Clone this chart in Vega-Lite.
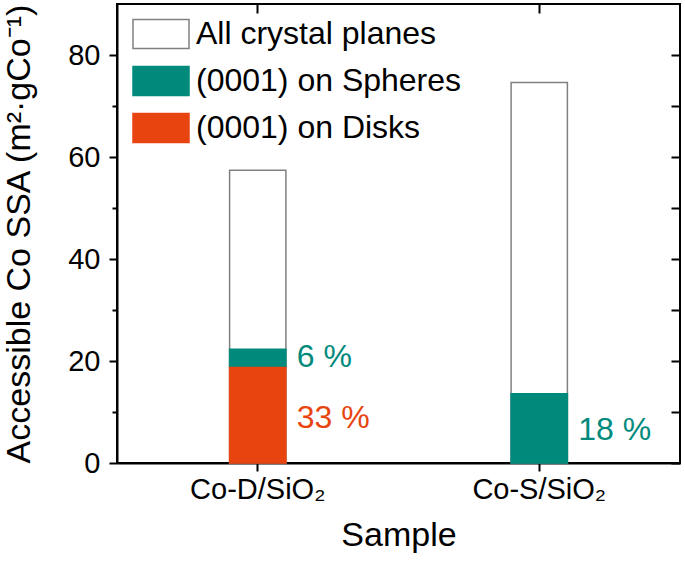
{
  "$schema": "https://vega.github.io/schema/vega-lite/v6.json",
  "width": 563,
  "height": 459,
  "autosize": "none",
  "padding": {"left": 117, "top": 4, "right": 5, "bottom": 100},
  "config": {
    "font": "Liberation Sans",
    "view": {"stroke": "black", "strokeWidth": 2},
    "axis": {
      "grid": false,
      "domainColor": "black",
      "domainWidth": 2,
      "tickColor": "black",
      "tickWidth": 2,
      "labelColor": "black",
      "labelFontSize": 29,
      "titleColor": "black",
      "titleFontSize": 34,
      "titleFontWeight": "normal"
    }
  },
  "datasets": {
    "bars": [
      {"sample": "Co-D/SiO₂", "series": "All crystal planes", "lo": 0, "hi": 57.4},
      {"sample": "Co-S/SiO₂", "series": "All crystal planes", "lo": 0, "hi": 74.6},
      {"sample": "Co-D/SiO₂", "series": "(0001) on Disks", "lo": 0, "hi": 19.0},
      {"sample": "Co-D/SiO₂", "series": "(0001) on Spheres", "lo": 19.0, "hi": 22.3},
      {"sample": "Co-S/SiO₂", "series": "(0001) on Spheres", "lo": 0, "hi": 13.6}
    ],
    "labels": [
      {"sample": "Co-D/SiO₂", "series": "(0001) on Spheres", "value": 20.7, "text": "6 %"},
      {"sample": "Co-D/SiO₂", "series": "(0001) on Disks", "value": 8.8, "text": "33 %"},
      {"sample": "Co-S/SiO₂", "series": "(0001) on Spheres", "value": 6.4, "text": "18 %"}
    ]
  },
  "layer": [
    {
      "data": {"name": "bars"},
      "mark": {"type": "bar", "strokeWidth": 1.5},
      "encoding": {
        "x": {
          "field": "sample", "type": "nominal",
          "scale": {"domain": ["Co-D/SiO₂", "Co-S/SiO₂"], "paddingInner": 0.8, "paddingOuter": 0.4},
          "axis": {"orient": "bottom", "title": "Sample", "labelAngle": 0, "tickSize": 8, "labelPadding": 4, "titlePadding": 14}
        },
        "y": {
          "field": "lo", "type": "quantitative",
          "scale": {"domain": [0, 90], "nice": false, "zero": true},
          "axis": {
            "orient": "left",
            "title": "Accessible Co SSA (m²·gCo⁻¹)",
            "values": [0, 10, 20, 30, 40, 50, 60, 70, 80],
            "labelExpr": "datum.value % 20 === 0 ? datum.label : ''",
            "tickSize": {"condition": {"test": "datum.value % 20 === 0", "value": 8}, "value": 5},
            "labelPadding": 9,
            "titlePadding": 31
          }
        },
        "y2": {"field": "hi"},
        "fill": {
          "field": "series", "type": "nominal",
          "scale": {"domain": ["All crystal planes", "(0001) on Spheres", "(0001) on Disks"], "range": ["#ffffff", "#008a7c", "#e84410"]},
          "legend": {
            "title": null,
            "orient": "none",
            "legendX": 15,
            "legendY": 1,
            "padding": 0,
            "symbolType": "M-1,-0.52H1V0.52H-1Z",
            "symbolSize": 3136,
            "symbolStrokeWidth": 1.5,
            "labelFontSize": 32,
            "labelColor": "black",
            "labelOffset": 6,
            "rowPadding": -10,
            "labelLimit": 400
          }
        },
        "stroke": {
          "field": "series", "type": "nominal",
          "scale": {"domain": ["All crystal planes", "(0001) on Spheres", "(0001) on Disks"], "range": ["#808080", "#008a7c", "#e84410"]},
          "legend": {
            "title": null,
            "orient": "none",
            "legendX": 15,
            "legendY": 1,
            "padding": 0,
            "symbolType": "M-1,-0.52H1V0.52H-1Z",
            "symbolSize": 3136,
            "symbolStrokeWidth": 1.5,
            "labelFontSize": 32,
            "labelColor": "black",
            "labelOffset": 6,
            "rowPadding": -10,
            "labelLimit": 400
          }
        }
      }
    },
    {
      "data": {"name": "labels"},
      "mark": {"type": "text", "align": "left", "baseline": "middle", "dx": 39, "fontSize": 32},
      "encoding": {
        "x": {"field": "sample", "type": "nominal", "scale": {"domain": ["Co-D/SiO₂", "Co-S/SiO₂"], "paddingInner": 0.8, "paddingOuter": 0.4}, "axis": null},
        "y": {"field": "value", "type": "quantitative", "scale": {"domain": [0, 90], "nice": false}, "axis": null},
        "text": {"field": "text"},
        "fill": {"field": "series", "type": "nominal", "legend": null}
      }
    },
    {
      "data": {"name": "bars"},
      "mark": {"type": "bar", "opacity": 0},
      "encoding": {
        "x": {
          "field": "sample", "type": "nominal",
          "scale": {"domain": ["Co-D/SiO₂", "Co-S/SiO₂"], "paddingInner": 0.8, "paddingOuter": 0.4},
          "axis": {"orient": "top", "title": null, "labels": false, "domain": false, "tickSize": -9}
        },
        "y": {
          "field": "lo", "type": "quantitative",
          "scale": {"domain": [0, 90], "nice": false},
          "axis": {"orient": "right", "title": null, "labels": false, "domain": false, "values": [0, 10, 20, 30, 40, 50, 60, 70, 80], "tickSize": -9}
        },
        "y2": {"field": "hi"}
      }
    }
  ],
  "resolve": {
    "scale": {"x": "independent", "y": "independent"},
    "axis": {"x": "independent", "y": "independent"}
  }
}
